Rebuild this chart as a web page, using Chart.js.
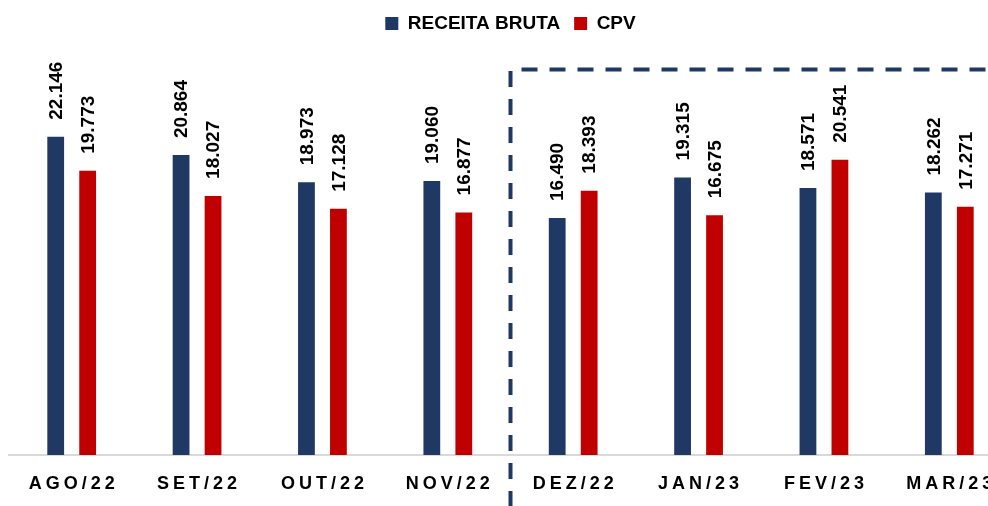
<!DOCTYPE html>
<html>
<head>
<meta charset="utf-8">
<script src="https://cdn.jsdelivr.net/npm/chart.js@4/dist/chart.umd.min.js"></script>
<style>
    html, body { margin: 0; padding: 0; background: #fff; overflow: hidden; }
    #wrap { position: relative; width: 1012px; height: 506px; }
</style>
</head>
<body>
<div id="wrap"><canvas id="grafico"></canvas></div>
<script>
// Dados do gráfico
const meses = ['AGO/22', 'SET/22', 'OUT/22', 'NOV/22', 'DEZ/22', 'JAN/23', 'FEV/23', 'MAR/23'];
const receitaBruta = [22146, 20864, 18973, 19060, 16490, 19315, 18571, 18262];
const cpv = [19773, 18027, 17128, 16877, 18393, 16675, 20541, 17271];

const AZUL = '#203864';
const VERMELHO = '#C00000';
const FONTE = "'Liberation Sans', Arial, sans-serif";

// formata 22146 -> 22.146
function formataMilhar(v) {
    return String(v).replace(/\B(?=(\d{3})+(?!\d))/g, '.');
}

// Rótulos verticais acima das barras
const rotulosPlugin = {
    id: 'rotulos',
    afterDatasetsDraw(chart) {
        const ctx = chart.ctx;
        chart.data.datasets.forEach((ds, i) => {
            const meta = chart.getDatasetMeta(i);
            meta.data.forEach((bar, j) => {
                ctx.save();
                ctx.translate(bar.x + 1, bar.y - 17);
                ctx.rotate(-Math.PI / 2);
                ctx.font = 'bold 19px ' + FONTE;
                ctx.fillStyle = '#000';
                ctx.textAlign = 'left';
                ctx.textBaseline = 'middle';
                ctx.fillText(formataMilhar(ds.data[j]), 0, 0);
                ctx.restore();
            });
        });
    }
};

// Rótulos do eixo x (com espaçamento entre letras) e moldura tracejada
const eixoPlugin = {
    id: 'eixo',
    afterDraw(chart) {
        const ctx = chart.ctx;
        const x = chart.scales.x;
        ctx.save();
        ctx.font = 'bold 18px ' + FONTE;
        ctx.fillStyle = '#000';
        ctx.textAlign = 'center';
        ctx.textBaseline = 'middle';
        ctx.letterSpacing = '4px';
        meses.forEach((m, i) => {
            ctx.fillText(m, x.getPixelForValue(i) + 2, 484);
        });
        ctx.restore();

        // moldura tracejada em volta de DEZ/22 - MAR/23
        const xEsq = (x.getPixelForValue(3) + x.getPixelForValue(4)) / 2;
        const yTopo = 69.5;
        ctx.save();
        ctx.strokeStyle = AZUL;
        ctx.lineWidth = 4;
        ctx.setLineDash([16, 12]);
        ctx.beginPath();
        ctx.moveTo(xEsq, 71);
        ctx.lineTo(xEsq, chart.height);
        ctx.stroke();
        ctx.beginPath();
        ctx.moveTo(xEsq + 11, yTopo);
        ctx.lineTo(chart.width, yTopo);
        ctx.stroke();
        ctx.lineWidth = 2;
        ctx.strokeStyle = '#a9b4c8';
        ctx.beginPath();
        ctx.moveTo(989, 78);
        ctx.lineTo(989, chart.height);
        ctx.stroke();
        ctx.restore();
    }
};

const ctx = document.getElementById('grafico').getContext('2d');
const grafico = new Chart(ctx, {
    type: 'bar',
    data: {
        labels: meses,
        datasets: [
            {
                label: 'RECEITA BRUTA',
                data: receitaBruta,
                backgroundColor: AZUL,
                categoryPercentage: 0.51,
                barPercentage: 0.525
            },
            {
                label: 'CPV',
                data: cpv,
                backgroundColor: VERMELHO,
                categoryPercentage: 0.51,
                barPercentage: 0.525
            }
        ]
    },
    options: {
        responsive: true,
        maintainAspectRatio: false,
        animation: false,
        layout: { padding: { left: 9, right: 0, top: 0, bottom: 0 } },
        plugins: {
            legend: {
                position: 'top',
                labels: {
                    boxWidth: 13,
                    boxHeight: 13,
                    padding: 14,
                    color: '#000',
                    font: { family: FONTE, size: 19, weight: 'bold' }
                }
            },
            tooltip: { enabled: false }
        },
        scales: {
            x: {
                grid: { display: false, drawTicks: false },
                border: { color: '#d9d9d9', width: 2 },
                ticks: { display: false },
                afterFit(s) { s.height = 51; }
            },
            y: {
                display: false,
                min: 0,
                max: 28665
            }
        }
    },
    plugins: [rotulosPlugin, eixoPlugin]
});
</script>
</body>
</html>
